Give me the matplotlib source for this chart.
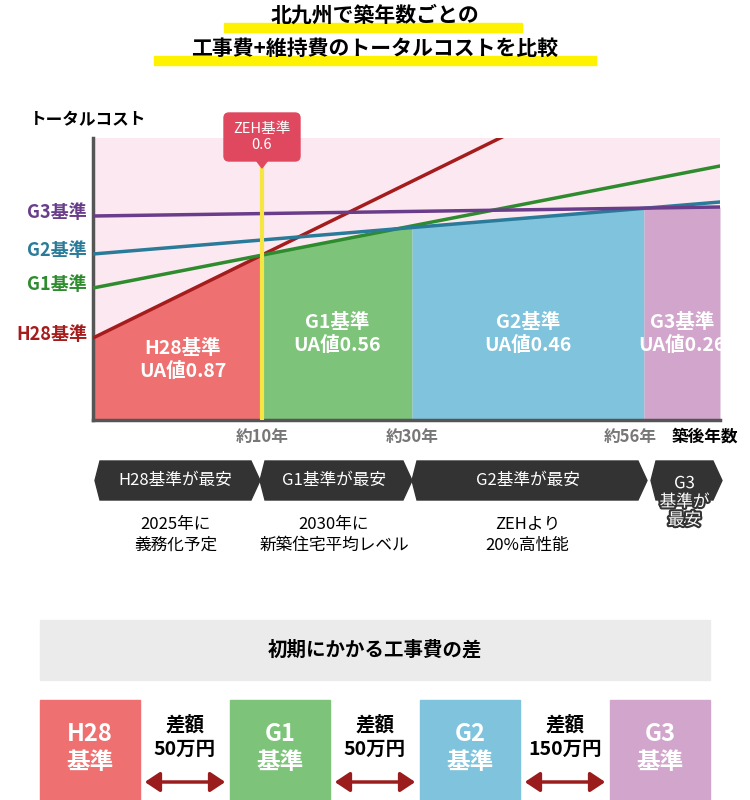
import matplotlib
matplotlib.use("Agg")
import matplotlib.pyplot as plt
import matplotlib.patheffects as pe
from matplotlib.patches import Polygon, Rectangle, FancyBboxPatch, FancyArrowPatch

plt.rcParams["font.family"] = "Noto Sans CJK JP"

# ---- data ----
standards = ["H28基準", "G1基準", "G2基準", "G3基準"]
ua_values = ["0.87", "0.56", "0.46", "0.26"]
cost_start = [82, 132, 166, 204]
cost_end = [390, 254, 218, 213]
line_colors = ["#a51c1c", "#2e8b2e", "#2a7a99", "#6a3d8a"]
fill_colors = ["#ee7070", "#7dc47a", "#7fc3dc", "#d2a6cc"]
breaks = [0, 169, 319, 551, 627]
year_labels = ["約10年", "約30年", "約56年"]
cheapest = ["H28基準が最安", "G1基準が最安", "G2基準が最安", "G3\n基準が\n最安"]
notes = ["2025年に\n義務化予定", "2030年に\n新築住宅平均レベル", "ZEHより\n20%高性能", ""]
diffs = ["差額\n50万円", "差額\n50万円", "差額\n150万円"]

W, H = 750, 800
fig = plt.figure(figsize=(7.5, 8), dpi=100)

# chart axes
x0, x1, ytop, ybot = 93, 720, 138, 420
ax = fig.add_axes([x0 / W, (H - ybot) / H, (x1 - x0) / W, (ybot - ytop) / H])
ax.set_xlim(0, breaks[-1]); ax.set_ylim(0, ybot - ytop)
ax.set_facecolor("#fce8f0")
for s in ["top", "right"]:
    ax.spines[s].set_visible(False)
for s in ["left", "bottom"]:
    ax.spines[s].set_color("#555555"); ax.spines[s].set_linewidth(2.5)
ax.set_xticks([]); ax.set_yticks([])

bg = fig.add_axes([0, 0, 1, 1])
bg.set_xlim(0, W); bg.set_ylim(H, 0); bg.axis("off")
bg.patch.set_alpha(0)
bg.set_zorder(10)

# title
bg.add_patch(Rectangle((224, 23), 298, 9, color="#fff200", zorder=1))
bg.add_patch(Rectangle((154, 56), 442, 9, color="#fff200", zorder=1))
bg.text(375, 15, "北九州で築年数ごとの", ha="center", va="center", fontsize=15, fontweight="bold", zorder=2)
bg.text(375, 48, "工事費+維持費のトータルコストを比較", ha="center", va="center", fontsize=15, fontweight="bold", zorder=2)

def cost(i, x):
    return cost_start[i] + (cost_end[i] - cost_start[i]) * x / breaks[-1]

for i in range(4):
    xa, xb = breaks[i], breaks[i + 1]
    ax.fill_between([xa, xb], [cost(i, xa), cost(i, xb)], 0, color=fill_colors[i], lw=0, zorder=1)
for i in range(4):
    ax.plot([0, breaks[-1]], [cost_start[i], cost_end[i]], color=line_colors[i], lw=2.5, zorder=3)
ax.axvline(breaks[1], color="#f5e642", lw=3, zorder=4)
for i in range(4):
    xm = (breaks[i] + breaks[i + 1]) / 2
    yy = 60 if i == 0 else 86
    ax.text(xm + (5 if i == 0 else 0), yy, f"{standards[i]}\nUA値{ua_values[i]}", ha="center", va="center",
            color="white", fontsize=14, fontweight="bold", linespacing=1.2, zorder=5)

# ZEH callout
bg.add_patch(FancyBboxPatch((224, 113), 76, 48, boxstyle="round,pad=0,rounding_size=5", color="#e0485f", zorder=5))
bg.add_patch(Polygon([[256, 160], [268, 160], [262, 168]], color="#e0485f", zorder=5))
bg.text(262, 137, "ZEH基準\n0.6", ha="center", va="center", color="white", fontsize=10.5, linespacing=1.2, zorder=6)

# axis labels
bg.text(30, 120, "トータルコスト", ha="left", va="center", fontsize=12, fontweight="bold")
for i in range(4):
    bg.text(87, ybot - cost_start[i] - 3, standards[i], ha="right", va="center", color=line_colors[i],
            fontsize=13, fontweight="bold")
for j, lab in enumerate(year_labels):
    xp = x0 + breaks[j + 1]
    bg.text(xp if j < 2 else xp - 14, 437, lab, ha="center", va="center", color="#777777", fontsize=12, fontweight="bold")
bg.text(705, 437, "築後年数", ha="center", va="center", fontsize=12, fontweight="bold")

# cheapest bands
segs = [(93, 258), (258, 410), (410, 645), (649, 720)]
yt, yb = 461, 500
for k, (a, b) in enumerate(segs):
    p = 7
    poly = [[a + p, yt], [b - p, yt], [b + 2, (yt + yb) / 2], [b - p, yb], [a + p, yb], [a + 2, (yt + yb) / 2]]
    bg.add_patch(Polygon(poly, color="#333333", zorder=2))
    if k < 3:
        bg.text((a + b) / 2, (yt + yb) / 2, cheapest[k], ha="center", va="center", color="white", fontsize=12, zorder=3)
        bg.text((a + b) / 2, 535, notes[k], ha="center", va="center", fontsize=12, linespacing=1.3)
    else:
        t = bg.text((a + b) / 2, 502, cheapest[k], ha="center", va="center", color="white", fontsize=12,
                    linespacing=1.1, zorder=3)
        t.set_path_effects([pe.withStroke(linewidth=3, foreground="#333333")])

# bottom section
bg.add_patch(Rectangle((40, 620), 670, 60, color="#ebebeb"))
bg.text(375, 650, "初期にかかる工事費の差", ha="center", va="center", fontsize=14, fontweight="bold")
bx = [40, 230, 420, 610]
for i in range(4):
    bg.add_patch(Rectangle((bx[i], 700), 100, 100, color=fill_colors[i]))
    bg.text(bx[i] + 50, 748, standards[i].replace("基準", "\n基準"), ha="center", va="center", color="white",
            fontsize=17, fontweight="bold", linespacing=1.2)
for j in range(3):
    a, b = bx[j] + 100, bx[j + 1]
    bg.text((a + b) / 2, 737, diffs[j], ha="center", va="center", fontsize=14, fontweight="bold", linespacing=1.3)
    bg.add_patch(FancyArrowPatch((a + 2, 782), (b - 2, 782), arrowstyle="<|-|>,head_length=6,head_width=4",
                                 color="#9b1c1c", lw=2.5, mutation_scale=1.5))

fig.savefig("out.png", dpi=100)
